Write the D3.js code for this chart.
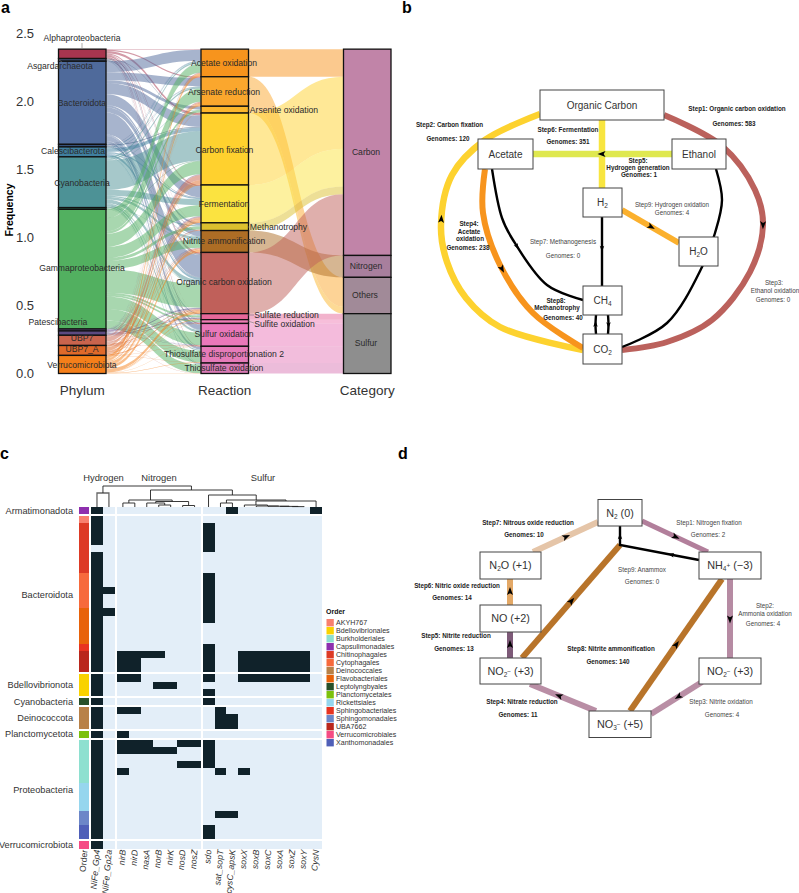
<!DOCTYPE html>
<html>
<head>
<meta charset="utf-8">
<script src="https://cdn.jsdelivr.net/npm/d3@7"></script>
<style>
  body { margin: 0; background: #fff; }
  text { font-family: "Liberation Sans", Arial, sans-serif; fill: #2b2b2b; }
</style>
</head>
<body>
<div id="my_dataviz"></div>
<script>
// ---- panel a data ----
var phyla = ["Alphaproteobacteria", "Asgardarchaeota", "Bacteroidota", "", "Calescibacterota", "Cyanobacteria", " ",
  "Gammaproteobacteria", "Patescibacteria", "  ", "UBP7", "UBP7_A", "Verrucomicrobiota"];
var reactions = ["Acetate oxidation", "Arsenate reduction", "Arsenite oxidation", "Carbon fixation", "Fermentation",
  "Methanotrophy", "Nitrite ammonification", "Organic carbon oxidation", "Sulfate reduction", "Sulfite oxidation",
  "Sulfur oxidation", "Thiosulfate disproportionation 2", "Thiosulfate oxidation"];
var categories = ["Carbon", "Nitrogen", "Others", "Sulfur"];
var reactionCategory = ["Carbon", "Others", "Others", "Carbon", "Carbon", "Carbon", "Nitrogen", "Carbon",
  "Sulfur", "Sulfur", "Sulfur", "Sulfur", "Sulfur"];
var freqTicks = [0, 0.5, 1, 1.5, 2, 2.5];

// frequency of each reaction (columns) in each phylum (rows)
var flowAlpha = [.004, .009, .001, .016, .007, .002, .004, .012, .001, .001, .007, .004, .001];
var flowAsgard = [.001, .001, 0, .004, .003, 0, 0, .007, 0, 0, .002, .001, .001];
var flowBactero = [.081, .059, .022, .081, .081, .015, .037, .162, .007, .004, .037, .018, .007];
var flowThinA = [.001, .002, 0, .006, .003, 0, .001, .005, 0, 0, .001, 0, 0];
var flowCalesci = [.006, .004, .001, .026, .010, .002, .003, .016, .001, 0, .003, .001, 0];
var flowCyano = [.011, .011, .003, .217, .044, .009, .018, .029, .004, .002, .015, .007, .003];
var flowThinB = [.001, .001, 0, .004, .001, 0, .001, .003, 0, 0, .001, .001, 0];
var flowGamma = [.066, .096, .018, .096, .081, .021, .063, .172, .015, .012, .092, .085, .063];
var flowPatesci = [.001, .001, 0, .002, .001, 0, 0, .002, .004, .002, .001, 0, 0];
var flowThinC = [.001, .002, 0, .004, .004, .001, .001, .007, .006, .004, .002, 0, 0];
var flowUbp7 = [.004, .006, .001, .037, .007, .002, .004, .006, .002, .001, .003, .001, .001];
var flowUbp7a = [.004, .007, .001, .029, .014, .002, .007, .007, 0, 0, .001, .001, 0];
var flowVerruco = [.022, .018, .003, .007, .022, .003, .022, .022, .004, .002, .003, .004, .001];
var flows = [flowAlpha, flowAsgard, flowBactero, flowThinA, flowCalesci, flowCyano, flowThinB, flowGamma,
  flowPatesci, flowThinC, flowUbp7, flowUbp7a, flowVerruco];

// ---- panel b and d text ----
var carbonNodes = [["Organic Carbon"], ["Acetate"], ["Ethanol"], ["H", "2"], ["H", "2", "O"], ["CH", "4"], ["CO", "2"]];
var carbonSteps = [
  ["Step1: Organic carbon oxidation", "Genomes: 583"], ["Step2: Carbon fixation", "Genomes: 120"],
  ["Step6: Fermentation", "Genomes: 351"], ["Step5:", "Hydrogen generation", "Genomes: 1"],
  ["Step9: Hydrogen oxidation", "Genomes: 4"], ["Step7: Methanogenesis", "Genomes: 0"],
  ["Step4:", "Acetate", "oxidation", "Genomes: 238"], ["Step8:", "Methanotrophy", "Genomes: 40"],
  ["Step3:", "Ethanol oxidation", "Genomes: 0"]];
var nitrogenSteps = [
  ["Step7: Nitrous oxide reduction", "Genomes: 10"], ["Step1: Nitrogen fixation", "Genomes: 2"],
  ["Step6: Nitric oxide reduction", "Genomes: 14"], ["Step9: Anammox", "Genomes: 0"],
  ["Step2:", "Ammonia oxidation", "Genomes: 4"], ["Step5: Nitrite reduction", "Genomes: 13"],
  ["Step8: Nitrite ammonification", "Genomes: 140"], ["Step4: Nitrate reduction", "Genomes: 11"],
  ["Step3: Nitrite oxidation", "Genomes: 4"]];

// ---- panel c data ----
var geneColumns = ["NiFe_Gp4", "NiFe_Gp2a", "nirB", "nirD", "nasA", "norB", "nirK", "nosD", "nosZ", "sdo",
  "sat_sopT", "cysC_apsK", "soxX", "soxB", "soxC", "soxA", "soxZ", "soxY", "CysN"];
var geneGroups = ["Hydrogen", "Nitrogen", "Sulfur"];
var heatPhyla = ["Armatimonadota", "Bacteroidota", "Bdellovibrionota", "Cyanobacteria", "Deinococcota",
  "Planctomycetota", "Proteobacteria", "Verrucomicrobiota"];
var heatPhylaRows = [1, 22, 3, 1, 3, 1, 14, 1];
var orderNames = ["AKYH767", "Bdellovibrionales", "Burkholderiales", "Capsulimonadales", "Chitinophagales",
  "Cytophagales", "Deinococcales", "Flavobacteriales", "Leptolyngbyales", "Planctomycetales", "Rickettsiales",
  "Sphingobacteriales", "Sphingomonadales", "UBA7662", "Verrucomicrobiales", "Xanthomonadales"];
// how many heatmap rows each order takes, top to bottom
var orderRuns = [["Capsulimonadales", 1], ["AKYH767", 1], ["Chitinophagales", 7], ["Cytophagales", 5],
  ["Flavobacteriales", 5], ["Sphingobacteriales", 1], ["UBA7662", 3], ["Bdellovibrionales", 3],
  ["Leptolyngbyales", 1], ["Deinococcales", 3], ["Planctomycetales", 1], ["Burkholderiales", 6],
  ["Rickettsiales", 4], ["Sphingomonadales", 2], ["Xanthomonadales", 2], ["Verrucomicrobiales", 1]];
// gene columns present in each row
var heatRowsOn = [
  [0, 11, 18],
  [0], [0, 9], [0, 9], [0, 9], [9], [0], [0], [0],
  [0, 9], [0, 9], [0, 1, 9], [0, 9], [0, 9],
  [0, 1, 9], [0, 9], [0], [0], [0],
  [0, 9],
  [0, 2, 3, 4, 5, 9, 12, 13, 14, 15, 16, 17], [0, 2, 3, 9, 12, 13, 14, 15, 16, 17], [0, 2, 3, 9, 12, 13, 14, 15, 16, 17],
  [0, 2, 3, 9, 12, 13, 14, 15, 16, 17], [0, 5, 6], [0, 9],
  [0, 9],
  [0, 2, 3, 10], [0, 10, 11], [0, 10, 11],
  [0, 2],
  [0, 2, 3, 4, 7, 8, 9], [0, 2, 3, 4, 5, 6, 9], [0, 9], [0, 7, 8, 9], [0, 2, 10, 12], [0],
  [0], [0], [0], [0],
  [0, 10, 11], [0],
  [0, 9], [0, 9],
  [0]];
// column dendrogram, h is the merge height
var geneTree = { h: 21, kids: [
  { h: 14, grey: true, kids: ["NiFe_Gp4", "NiFe_Gp2a"] },
  { h: 17, kids: [
    { h: 7, kids: [
      { h: 4, kids: ["nirB", "nirD"] },
      { h: 5.5, kids: [
        { h: 4, kids: ["nasA", { h: 2, kids: ["norB", "nirK"] }] },
        { h: 1.5, kids: ["nosD", "nosZ"] }] }] },
    { h: 12, kids: ["sdo",
      { h: 7, kids: [
        { h: 4, kids: ["sat_sopT", "cysC_apsK"] },
        { h: 6, kids: [
          { h: 2, kids: ["soxX",
            { h: 1, kids: ["soxB",
              { h: .8, kids: ["soxC",
                { h: .6, kids: ["soxA", { h: .4, kids: ["soxZ", "soxY"] }] }] }] }] },
          "CysN"] }] }] }] }] };

// ---- colours ----
var phylumColor = ["#a8354f", "#3f4f70", "#4f6a9b", "#35507a", "#3f7f9f", "#4d9296", "#2e7d5a", "#52b060",
  "#7c5aa0", "#5c4a80", "#c9644d", "#e06a2a", "#f57f1a"];
var reactionColor = ["#f7941d", "#fba72d", "#fcb62c", "#ffd12e", "#fbe340", "#dcc02e", "#ad6d25", "#c0605a",
  "#e5689a", "#ef7db5", "#ea78ba", "#e67bb9", "#d97ab5"];
var categoryColor = ["#c184a8", "#a87f9d", "#a18a98", "#8e8e8e"];
var orderColor = ["#f8806e", "#f9d200", "#8ee0d0", "#8e2fae", "#dd3a25", "#f76a3c", "#b88148", "#e8620a",
  "#27502a", "#7cc10c", "#96d6ee", "#e83320", "#6c86c8", "#b9271c", "#f54b84", "#4f5fb8"];

var svg = d3.select("#my_dataviz").append("svg")
  .attr("width", 799).attr("height", 893)
  .style("display", "block");

// panel letters
[["a", 1, 13], ["b", 402, 13], ["c", 0, 459], ["d", 398, 459]].forEach(function (d) {
  svg.append("text").attr("x", d[1]).attr("y", d[2]).text(d[0])
    .style("font-size", "16px").style("font-weight", "bold").style("fill", "#000");
});

// ==== panel a: alluvial ====
var y = d3.scaleLinear().domain([0, 2.5]).range([373.5, 33.5]);
var axisX = d3.scalePoint().domain(["Phylum", "Reaction", "Category"]).range([58.5, 343.5]);
var stratumW = 47.5;
var gA = svg.append("g");

var ribbon = d3.area().x(function (d) { return d.x; }).y0(function (d) { return d.y0; })
  .y1(function (d) { return d.y1; }).curve(d3.curveBumpX);

var total = d3.sum(flows, function (r) { return d3.sum(r); });
var rowTotals = flows.map(function (r) { return d3.sum(r); });
var colTotals = reactions.map(function (r, j) { return d3.sum(flows, function (f) { return f[j]; }); });

// stack position of the top of each phylum and reaction
function tops(values) {
  var out = [], acc = total;
  values.forEach(function (v) { out.push(acc); acc -= v; });
  return out;
}
var phylumTop = tops(rowTotals), reactionTop = tops(colTotals);
var catTotals = categories.map(function (c) {
  return d3.sum(colTotals.filter(function (v, j) { return reactionCategory[j] === c; }));
});
var categoryTop = tops(catTotals);

// phylum -> reaction ribbons, lodes stacked in the order of the other axis
var rx0 = axisX("Phylum") + stratumW, rx1 = axisX("Reaction");
var colCursor = reactionTop.slice();
flows.forEach(function (row, i) {
  var rowCursor = phylumTop[i];
  row.forEach(function (v, j) {
    if (v > 0) {
      gA.append("path")
        .attr("d", ribbon([
          { x: rx0, y0: y(rowCursor), y1: y(rowCursor - v) },
          { x: rx1, y0: y(colCursor[j]), y1: y(colCursor[j] - v) }]))
        .attr("fill", phylumColor[i]).attr("fill-opacity", 0.5);
    }
    rowCursor -= v;
    colCursor[j] -= v;
  });
});

// reaction -> category ribbons
var cx0 = axisX("Reaction") + stratumW, cx1 = axisX("Category");
var catCursor = categoryTop.slice();
reactions.forEach(function (r, j) {
  var c = categories.indexOf(reactionCategory[j]);
  gA.append("path")
    .attr("d", ribbon([
      { x: cx0, y0: y(reactionTop[j]), y1: y(reactionTop[j] - colTotals[j]) },
      { x: cx1, y0: y(catCursor[c]), y1: y(catCursor[c] - colTotals[j]) }]))
    .attr("fill", reactionColor[j]).attr("fill-opacity", 0.5);
  catCursor[c] -= colTotals[j];
});

// strata
function strata(axisName, tp, vals, colors) {
  vals.forEach(function (v, i) {
    gA.append("rect")
      .attr("x", axisX(axisName)).attr("width", stratumW)
      .attr("y", y(tp[i])).attr("height", y(0) - y(v))
      .attr("fill", colors[i]).attr("stroke", "#111").attr("stroke-width", 1.3);
  });
}
strata("Phylum", phylumTop, rowTotals, phylumColor);
strata("Reaction", reactionTop, colTotals, reactionColor);
strata("Category", categoryTop, catTotals, categoryColor);

// axis
var yAxis = gA.append("g").attr("transform", "translate(34,0)")
  .call(d3.axisLeft(y).tickValues(freqTicks).tickSize(0).tickFormat(d3.format(".1f")));
yAxis.select(".domain").remove();
yAxis.selectAll("text").attr("x", 0).style("font-size", "13px").style("font-family", "Liberation Sans").style("fill", "#333");

gA.append("text").attr("transform", "translate(13,210) rotate(-90)").attr("text-anchor", "middle")
  .text("Frequency").style("font-size", "10.5px").style("font-weight", "bold").style("fill", "#000");

axisX.domain().forEach(function (a) {
  gA.append("text").attr("x", axisX(a) + stratumW / 2).attr("y", 395).attr("text-anchor", "middle")
    .text(a).style("font-size", "13.5px").style("fill", "#333");
});

// leader lines of the moved labels
var leaders = [[82, 43, 82, 48], [62, 62, 59, 60], [80, 324, 85, 327], [248, 110, 250, 110], [248, 227, 249, 227],
  [248, 315, 254, 315], [248, 321, 254, 323]];
leaders.forEach(function (d) {
  gA.append("line").attr("x1", d[0]).attr("y1", d[1]).attr("x2", d[2]).attr("y2", d[3])
    .attr("stroke", "#777").attr("stroke-width", 0.6);
});

// stratum labels, placed by hand like the repelled ones in the figure
var phylumLabelPos = { "Alphaproteobacteria": [82, 38], "Asgardarchaeota": [60, 66], "Bacteroidota": [82, 103],
  "Calescibacterota": [73, 151], "Cyanobacteria": [82, 183], "Gammaproteobacteria": [82, 268],
  "Patescibacteria": [58, 322], "UBP7": [82, 338], "UBP7_A": [82, 349], "Verrucomicrobiota": [82, 365] };
var reactionLabelPos = [[224, 63], [224, 92], [284, 110], [224.5, 150], [224, 204], [278.5, 227], [224, 241], [224, 282],
  [286.5, 314.5], [284.5, 323.5], [224, 334], [224, 354], [224, 368]];
var categoryLabelPos = [[366, 152], [366, 266], [365, 295], [366, 343]];
function stratumLabel(t, p, size) {
  gA.append("text").attr("x", p[0]).attr("y", p[1]).attr("dy", "0.35em").attr("text-anchor", "middle")
    .text(t).style("font-size", size);
}
phyla.forEach(function (p) { if (phylumLabelPos[p]) stratumLabel(p, phylumLabelPos[p], "8.6px"); });
reactions.forEach(function (r, i) { stratumLabel(r, reactionLabelPos[i], "8.6px"); });
categories.forEach(function (c, i) { stratumLabel(c, categoryLabelPos[i], "8.6px"); });

// ==== shared bits for the two pathway diagrams ====
var smooth = d3.line().curve(d3.curveCatmullRom.alpha(0.5));
var straight = d3.line();
var arrowHead = "M5,0L-3,-3L-1.2,0L-3,3Z";

function drawEdge(g, e) {
  var p = g.append("path")
    .attr("d", (e.curved ? smooth : straight)(e.pts))
    .attr("fill", "none").attr("stroke", e.color).attr("stroke-width", e.w);
  (e.arrows || []).forEach(function (t) {
    var node = p.node(), len = node.getTotalLength();
    var a = node.getPointAtLength(len * t), b = node.getPointAtLength(len * t + 1);
    var ang = Math.atan2(b.y - a.y, b.x - a.x) * 180 / Math.PI;
    g.append("path").attr("d", arrowHead).attr("fill", "#000")
      .attr("transform", "translate(" + a.x + "," + a.y + ") rotate(" + ang + ") scale(" + (e.w < 3 ? 0.75 : 1) + ")");
  });
}

function drawBox(g, b, parts, size) {
  g.append("rect").attr("x", b[0]).attr("y", b[1]).attr("width", b[2]).attr("height", b[3])
    .attr("fill", "#fff").attr("stroke", "#444").attr("stroke-width", 1);
  var t = g.append("text").attr("x", b[0] + b[2] / 2).attr("y", b[1] + b[3] / 2).attr("dy", "0.36em")
    .attr("text-anchor", "middle").style("font-size", size).style("fill", "#333");
  parts.forEach(function (s) {
    var ts = t.append("tspan").text(s.t);
    if (s.sub) ts.style("font-size", "6.5px").attr("dy", "2");
    if (s.sup) ts.style("font-size", "6.5px").attr("dy", "-3");
    if (s.back) ts.attr("dy", s.back);
  });
}

function stepText(g, lines, xs, ys, bold) {
  lines.forEach(function (l, i) {
    g.append("text").attr("x", xs[i]).attr("y", ys[i]).attr("dy", "0.35em").attr("text-anchor", "middle")
      .text(l).style("font-size", "6.3px").style("font-weight", bold ? "bold" : "normal").style("fill", bold ? "#222" : "#444");
  });
}

// ==== panel b: carbon cycle ====
var gB = svg.append("g");
var carbonBoxes = [[540, 90, 124, 30], [478, 139, 55, 30], [672, 139, 54, 30], [583, 188, 39, 29],
  [679, 237, 39, 29], [583, 286, 39, 29], [583, 334, 39, 30]];
var carbonEdges = [
  { color: "#bb615c", w: 6, curved: true, arrows: [0.43], pts: [[664, 115], [722, 146], [755, 190], [763, 225], [750, 272], [712, 320], [667, 342], [622, 350]] },
  { color: "#fdd22f", w: 6.5, curved: true, arrows: [0.58], pts: [[583, 350], [500, 327], [466, 298], [447, 262], [441, 225], [452, 175], [485, 140], [540, 114]] },
  { color: "#f8e53f", w: 6.5, pts: [[602, 120], [602, 188]] },
  { color: "#dfe84f", w: 6.5, arrows: [0.5], pts: [[672, 154], [533, 154]] },
  { color: "#f7941d", w: 6, curved: true, arrows: [0.47], pts: [[485, 169], [483, 213], [500, 265], [533, 313], [583, 348]] },
  { color: "#000", w: 2.4, curved: true, arrows: [0.48], pts: [[492, 169], [502, 218], [513, 240], [547, 285], [583, 300]] },
  { color: "#000", w: 2.4, curved: true, pts: [[716, 169], [722, 200], [715, 233], [702, 267], [667, 323], [622, 347]] },
  { color: "#fbb02d", w: 6, arrows: [0.5], pts: [[622, 210], [679, 243]] },
  { color: "#000", w: 2.4, arrows: [0.45], pts: [[602, 217], [602, 286]] },
  { color: "#000", w: 2.4, curved: true, arrows: [0.5], pts: [[596, 334], [595.5, 325], [596, 315]] },
  { color: "#000", w: 2.4, curved: true, arrows: [0.5], pts: [[608, 315], [608.5, 325], [608, 334]] }];
carbonEdges.forEach(function (e) { drawEdge(gB, e); });

carbonNodes.forEach(function (n, i) {
  var parts = [{ t: n[0] }];
  if (n[1]) parts.push({ t: n[1], sub: true });
  if (n[2]) parts.push({ t: n[2], back: "-2" });
  drawBox(gB, carbonBoxes[i], parts, "10px");
});

var carbonTextPos = [
  { x: [737, 734], y: [109, 124], bold: true }, { x: [449.5, 448], y: [125, 139], bold: true },
  { x: [568, 568], y: [130, 142], bold: true }, { x: [638, 638, 639], y: [160.5, 168, 175], bold: true },
  { x: [672, 672], y: [205, 213], bold: false }, { x: [563, 563], y: [242, 256], bold: false },
  { x: [469, 469, 470, 468], y: [224, 232, 239, 248], bold: true }, { x: [556, 557, 563], y: [301, 308, 318], bold: true },
  { x: [774, 775, 773], y: [283, 291, 300], bold: false }];
carbonSteps.forEach(function (s, i) { stepText(gB, s, carbonTextPos[i].x, carbonTextPos[i].y, carbonTextPos[i].bold); });

// ==== panel c: heatmap ====
var gC = svg.append("g");
var cellW = 11.95, cellH = 7.09, groupGap = 2.2;
var geneBand = d3.scaleBand().domain(geneColumns).range([91, 91 + 19 * cellW]);
function colX(name) {
  var i = geneColumns.indexOf(name);
  return geneBand(name) + (i >= 2 ? 2 : 0) + (i >= 9 ? 2 : 0);
}
var rowBand = d3.scaleBand().domain(d3.range(heatRowsOn.length)).range([507, 507 + heatRowsOn.length * cellH]);
var rowGroup = [];
heatPhylaRows.forEach(function (n, g) { d3.range(n).forEach(function () { rowGroup.push(g); }); });
function rowY(i) { return rowBand(i) + rowGroup[i] * groupGap; }

var rowOrders = [];
orderRuns.forEach(function (r) { d3.range(r[1]).forEach(function () { rowOrders.push(r[0]); }); });

// cells snap to pixels so that no seams show between neighbours
heatRowsOn.forEach(function (on, i) {
  gC.append("rect").attr("x", 79).attr("y", rowY(i)).attr("width", 10).attr("height", cellH)
    .attr("fill", orderColor[orderNames.indexOf(rowOrders[i])]).attr("shape-rendering", "crispEdges");
  geneColumns.forEach(function (c, j) {
    gC.append("rect").attr("x", colX(c)).attr("y", rowY(i)).attr("width", cellW).attr("height", cellH)
      .attr("fill", on.indexOf(j) >= 0 ? "#10222a" : "#e3eef8").attr("shape-rendering", "crispEdges");
  });
});

// phylum labels on the left
var acc = 0;
heatPhyla.forEach(function (p, g) {
  var first = acc, last = acc + heatPhylaRows[g] - 1;
  acc += heatPhylaRows[g];
  gC.append("text").attr("x", 73).attr("y", (rowY(first) + rowY(last) + cellH) / 2).attr("dy", "0.35em")
    .attr("text-anchor", "end").text(p).style("font-size", "9.2px").style("fill", "#333");
});

// column labels
gC.append("text").attr("transform", "translate(87.5,850) rotate(-85)").attr("text-anchor", "end")
  .text("Order").style("font-size", "8.7px").style("fill", "#333");
geneColumns.forEach(function (c) {
  gC.append("text").attr("transform", "translate(" + (colX(c) + cellW / 2 + 3) + ",850) rotate(-85)")
    .attr("text-anchor", "end").text(c).style("font-size", "8.7px").style("font-style", "italic").style("fill", "#333");
});

// gene group titles
var groupTitleX = [103.5, 159, 263];
geneGroups.forEach(function (t, i) {
  gC.append("text").attr("x", groupTitleX[i]).attr("y", 478).attr("dy", "0.35em").attr("text-anchor", "middle")
    .text(t).style("font-size", "9.4px").style("fill", "#333");
});

// dendrogram
var treeY = d3.scaleLinear().domain([0, 21]).range([507, 486]);
function drawTree(n) {
  if (typeof n === "string") return { x: colX(n) + cellW / 2, h: 0 };
  var kids = n.kids.map(drawTree);
  var mid = d3.mean(kids, function (k) { return k.x; });
  var pts = [[kids[0].x, treeY(kids[0].h)], [kids[0].x, treeY(n.h)], [kids[1].x, treeY(n.h)], [kids[1].x, treeY(kids[1].h)]];
  gC.append("path").attr("d", straight(pts)).attr("fill", "none")
    .attr("stroke", n.grey ? "#666" : "#222").attr("stroke-width", n.grey ? 1.3 : 0.9);
  return { x: mid, h: n.h };
}
drawTree(geneTree);

// legend
gC.append("text").attr("x", 326).attr("y", 612).attr("dy", "0.35em").text("Order")
  .style("font-size", "7px").style("font-weight", "bold").style("fill", "#111");
orderNames.forEach(function (o, i) {
  gC.append("rect").attr("x", 326.5).attr("y", 619 + i * 8).attr("width", 7.3).attr("height", 7.4).attr("fill", orderColor[i]);
  gC.append("text").attr("x", 336).attr("y", 622.8 + i * 8).attr("dy", "0.35em").text(o)
    .style("font-size", "7.1px").style("fill", "#333");
});

// ==== panel d: nitrogen cycle ====
var gD = svg.append("g");
var nitrogenNodes = [
  [{ t: "N" }, { t: "2", sub: true }, { t: " (0)", back: "-2" }],
  [{ t: "N" }, { t: "2", sub: true }, { t: "O (+1)", back: "-2" }],
  [{ t: "NO (+2)" }],
  [{ t: "NO" }, { t: "2", sub: true }, { t: "\u2212", sup: true }, { t: " (+3)", back: "1" }],
  [{ t: "NH" }, { t: "4", sub: true }, { t: "+", sup: true }, { t: " (\u22123)", back: "1" }],
  [{ t: "NO" }, { t: "2", sub: true }, { t: "\u2212", sup: true }, { t: " (+3)", back: "1" }],
  [{ t: "NO" }, { t: "3", sub: true }, { t: "\u2212", sup: true }, { t: " (+5)", back: "1" }]];
var nitrogenBoxes = [[598, 499.5, 44, 26.5], [480, 552, 61, 27], [480, 605, 61, 27], [480, 658, 61, 26],
  [699, 552, 62, 27], [699, 658, 62, 26], [589, 711, 62, 26.5]];
var nitrogenEdges = [
  { color: "#b27f9b", w: 5, arrows: [0.5], pts: [[642, 521], [708, 552]] },
  { color: "#b68ba3", w: 6, arrows: [0.5], pts: [[730, 579], [730, 658]] },
  { color: "#b98ea5", w: 6, arrows: [0.45], pts: [[702, 682], [651, 714]] },
  { color: "#b98ea5", w: 6, arrows: [0.55], pts: [[596, 711], [530, 684]] },
  { color: "#7d5a78", w: 6, arrows: [0.5], pts: [[510, 658], [510, 632]] },
  { color: "#e3a866", w: 6, arrows: [0.5], pts: [[510, 605], [510, 579]] },
  { color: "#e5c5a8", w: 6, arrows: [0.5], pts: [[533, 552], [598, 522]] },
  { color: "#b8742a", w: 6, arrows: [0.5], pts: [[522, 658], [620, 545]] },
  { color: "#b8742a", w: 6, arrows: [0.5], pts: [[630, 711], [722, 579]] },
  { color: "#000", w: 2.4, arrows: [0.28, 0.89], pts: [[699, 560], [620, 545], [620, 526]] }];
nitrogenEdges.forEach(function (e) { drawEdge(gD, e); });
nitrogenNodes.forEach(function (n, i) { drawBox(gD, nitrogenBoxes[i], n, "10.8px"); });

var nitrogenTextPos = [
  { x: [528, 524], y: [523, 535], bold: true }, { x: [709, 708], y: [523, 535], bold: false },
  { x: [457, 452], y: [586, 598], bold: true }, { x: [642, 642], y: [570, 582], bold: false },
  { x: [765, 765, 763], y: [606, 614, 624], bold: false }, { x: [456, 454], y: [636, 649], bold: true },
  { x: [611, 608], y: [649, 662], bold: true }, { x: [522, 518], y: [702, 715], bold: true },
  { x: [721, 722], y: [702, 715], bold: false }];
nitrogenSteps.forEach(function (s, i) { stepText(gD, s, nitrogenTextPos[i].x, nitrogenTextPos[i].y, nitrogenTextPos[i].bold); });
</script>
</body>
</html>
